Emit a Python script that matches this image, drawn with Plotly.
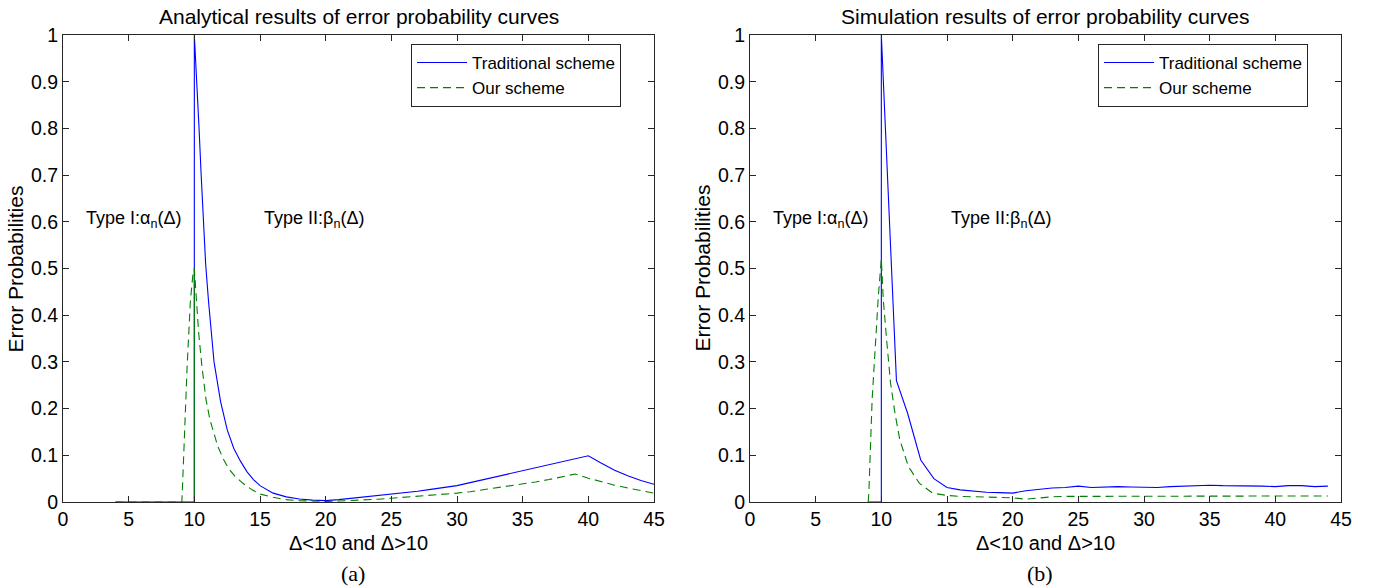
import plotly.graph_objects as go

# ---------------- data ----------------
x_ticks = [0, 5, 10, 15, 20, 25, 30, 35, 40, 45]
y_ticks = [0, 0.1, 0.2, 0.3, 0.4, 0.5, 0.6, 0.7, 0.8, 0.9, 1]
y_tick_labels = ["0", "0.1", "0.2", "0.3", "0.4", "0.5", "0.6", "0.7", "0.8", "0.9", "1"]

series_names = ["Traditional scheme", "Our scheme"]

# (a) analytical results
ana_trad_x = [4, 10, 10, 10.2, 10.36, 10.52, 10.68, 10.86, 11.08, 11.5, 12, 12.5, 13, 13.5,
              14, 14.5, 15, 16, 17, 18, 19, 20, 21, 22, 23, 24, 25, 26, 27, 28, 29, 30,
              31, 32, 33, 34, 35, 36, 37, 38, 39, 40, 41, 42, 43, 44, 45]
ana_trad_y = [0, 0, 1.0, 0.9, 0.8, 0.7, 0.6, 0.51, 0.43, 0.30, 0.215, 0.155, 0.115, 0.088,
              0.065, 0.048, 0.035, 0.019, 0.011, 0.0065, 0.004, 0.003, 0.005, 0.008, 0.011,
              0.0135, 0.016, 0.019, 0.023, 0.027, 0.031, 0.035, 0.0415, 0.048, 0.055, 0.0615,
              0.068, 0.0745, 0.081, 0.087, 0.093, 0.099, 0.083, 0.068, 0.056, 0.046, 0.038]

ana_our_x = [4, 9.05, 9.15, 9.25, 9.45, 9.7, 9.9, 10, 10.15, 10.33, 10.58, 10.89, 11.2, 11.47,
             11.8, 12.23, 12.6, 13.1, 13.7, 14.4, 15, 16, 17, 18, 19, 20, 21, 22, 23, 24, 25,
             26, 27, 28, 29, 30, 31, 32, 33, 34, 35, 36, 37, 38, 39, 40, 41, 42, 43, 44, 45]
ana_our_y = [0, 0, 0.07, 0.15, 0.29, 0.43, 0.49, 0.5, 0.433, 0.362, 0.29, 0.219, 0.175, 0.148,
             0.118, 0.091, 0.072, 0.055, 0.04, 0.026, 0.017, 0.01, 0.005, 0.003, 0.0015, 0.001,
             0.002, 0.003, 0.004, 0.006, 0.008, 0.01, 0.012, 0.014, 0.016, 0.019, 0.022, 0.026,
             0.03, 0.034, 0.039, 0.043, 0.048, 0.054, 0.06, 0.051, 0.043, 0.036, 0.03, 0.024, 0.019]

# solid green separator in (a)
ana_sep_x = [10, 10]
ana_sep_y = [0, 0.5]

# (b) simulation results
sim_trad_x = [9, 10, 10, 11.15, 12, 13, 14, 15, 16, 17, 18, 19, 20, 21, 22, 23, 24, 25, 26, 27,
              28, 29, 30, 31, 32, 33, 34, 35, 36, 37, 38, 39, 40, 41, 42, 43, 44]
sim_trad_y = [0, 0, 1.0, 0.26, 0.19, 0.09, 0.05, 0.031, 0.026, 0.023, 0.021, 0.02, 0.019, 0.024,
              0.027, 0.030, 0.031, 0.034, 0.031, 0.032, 0.033, 0.032, 0.032, 0.031, 0.033, 0.034,
              0.035, 0.036, 0.035, 0.035, 0.034, 0.034, 0.033, 0.035, 0.035, 0.033, 0.034]

sim_our_x = [9, 9.05, 9.3, 9.56, 9.77, 10, 10.15, 10.4, 10.7, 11.04, 11.4, 12.06, 12.9, 13.9, 15,
             16, 17, 18, 19, 20, 21, 22, 23, 24, 25, 26, 27, 28, 29, 30, 31, 32, 33, 34, 35, 36,
             37, 38, 39, 40, 41, 42, 43, 44]
sim_our_y = [0, 0.02, 0.22, 0.348, 0.44, 0.52, 0.433, 0.348, 0.255, 0.19, 0.134, 0.076, 0.04,
             0.019, 0.014, 0.012, 0.011, 0.010, 0.010, 0.009, 0.006, 0.009, 0.011, 0.012, 0.012,
             0.0125, 0.0125, 0.013, 0.0125, 0.0125, 0.013, 0.0125, 0.013, 0.013, 0.0125, 0.0135,
             0.013, 0.0125, 0.013, 0.0125, 0.013, 0.013, 0.0135, 0.013]

titles = ["Analytical results of error probability curves",
          "Simulation results of error probability curves"]
x_title = "Δ<10 and Δ>10"
y_title = "Error Probabilities"
panel_labels = ["(a)", "(b)"]
type1_text = "Type I:α<sub>n</sub>(Δ)"
type2_text = "Type II:β<sub>n</sub>(Δ)"

# ---------------- styling ----------------
W, H = 1377, 588
BLUE = "#0000FF"
GREEN = "#008000"
SANS = "Arial, Liberation Sans, sans-serif"
SERIF = "Times New Roman, Liberation Serif, serif"
AXC = "#262626"

dom_x = [[63 / W, 654 / W], [750 / W, 1341 / W]]
dom_y = [1 - 502 / H, 1 - 35 / H]

fig = go.Figure()

fig.add_trace(go.Scatter(x=ana_trad_x, y=ana_trad_y, mode="lines", name=series_names[0],
                         line=dict(color=BLUE, width=1.1), xaxis="x", yaxis="y", legend="legend"))
fig.add_trace(go.Scatter(x=ana_our_x, y=ana_our_y, mode="lines", name=series_names[1],
                         line=dict(color=GREEN, width=1.1, dash="8px,5px"),
                         xaxis="x", yaxis="y", legend="legend"))
fig.add_trace(go.Scatter(x=ana_sep_x, y=ana_sep_y, mode="lines", showlegend=False,
                         line=dict(color=GREEN, width=1.1), xaxis="x", yaxis="y"))

fig.add_trace(go.Scatter(x=sim_trad_x, y=sim_trad_y, mode="lines", name=series_names[0],
                         line=dict(color=BLUE, width=1.1), xaxis="x2", yaxis="y2", legend="legend2"))
fig.add_trace(go.Scatter(x=sim_our_x, y=sim_our_y, mode="lines", name=series_names[1],
                         line=dict(color=GREEN, width=1.1, dash="8px,5px"),
                         xaxis="x2", yaxis="y2", legend="legend2"))

axis_common = dict(showline=True, linecolor=AXC, linewidth=1, mirror="ticks", ticks="inside",
                   ticklen=6, tickcolor=AXC, showgrid=False, zeroline=False, automargin=False,
                   tickfont=dict(family=SANS, size=19.5, color="#000"))

legend_common = dict(yanchor="top", xanchor="right", bgcolor="white", bordercolor=AXC,
                     borderwidth=1, font=dict(family=SANS, size=17), tracegroupgap=0,
                     itemwidth=50)

fig.update_layout(
    template="none",
    width=W, height=H, margin=dict(l=0, r=0, t=0, b=0, autoexpand=False),
    paper_bgcolor="white", plot_bgcolor="white",
    font=dict(family=SANS, color="#000"),
    xaxis=dict(domain=dom_x[0], range=[0, 45], tickvals=x_ticks, anchor="y", **axis_common),
    yaxis=dict(domain=dom_y, range=[0, 1], tickvals=y_ticks, ticktext=y_tick_labels,
               anchor="x", **axis_common),
    xaxis2=dict(domain=dom_x[1], range=[0, 45], tickvals=x_ticks, anchor="y2", **axis_common),
    yaxis2=dict(domain=dom_y, range=[0, 1], tickvals=y_ticks, ticktext=y_tick_labels,
                anchor="x2", **axis_common),
    legend=dict(x=621 / W, y=1 - 44 / H, **legend_common),
    legend2=dict(x=1308 / W, y=1 - 44 / H, **legend_common),
    showlegend=True,
)

annotations = []
for i, (xr, yr) in enumerate([("x", "y"), ("x2", "y2")]):
    cx = (dom_x[i][0] + dom_x[i][1]) / 2
    annotations.append(dict(text=titles[i], xref="paper", yref="paper", x=cx, y=1 - 16 / H,
                            xanchor="center", yanchor="middle", showarrow=False,
                            font=dict(family=SANS, size=21)))
    annotations.append(dict(text=x_title, xref="paper", yref="paper", x=cx, y=1 - 543 / H,
                            xanchor="center", yanchor="middle", showarrow=False,
                            font=dict(family=SANS, size=20)))
    annotations.append(dict(text=panel_labels[i], xref="paper", yref="paper", x=cx - 6 / W,
                            y=1 - 573 / H, xanchor="center", yanchor="middle", showarrow=False,
                            font=dict(family=SERIF, size=22)))
    annotations.append(dict(text=y_title, xref="paper", yref="paper",
                            x=dom_x[i][0] - 48 / W, y=(dom_y[0] + dom_y[1]) / 2,
                            xanchor="center", yanchor="middle", textangle=-90, showarrow=False,
                            font=dict(family=SANS, size=21)))
    annotations.append(dict(text=type1_text, xref=xr, yref=yr, x=1.6, y=0.604,
                            xanchor="left", yanchor="middle", showarrow=False,
                            font=dict(family=SANS, size=18)))
    annotations.append(dict(text=type2_text, xref=xr, yref=yr, x=15.15, y=0.604,
                            xanchor="left", yanchor="middle", showarrow=False,
                            font=dict(family=SANS, size=18)))
fig.update_layout(annotations=annotations)

fig.write_html("out.html", config={"displayModeBar": False},
               post_script="document.body.style.margin='0';")
